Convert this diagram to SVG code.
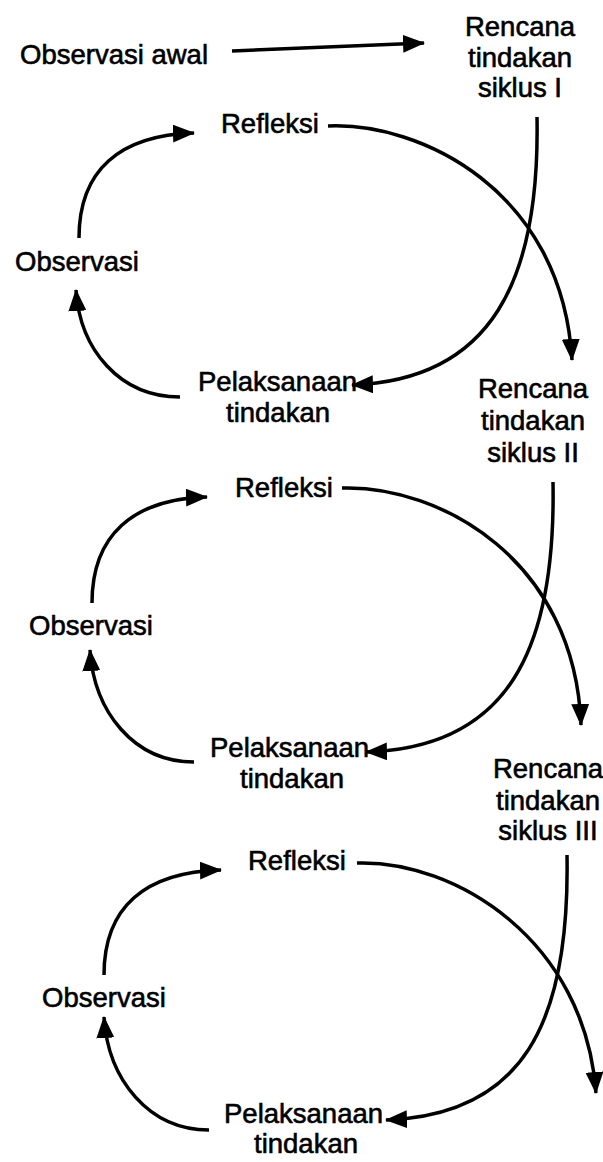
<svg xmlns="http://www.w3.org/2000/svg" width="603" height="1162" viewBox="0 0 603 1162">
<defs>
<style>
text{font-family:"Liberation Sans",Arial,sans-serif;font-size:27.5px;fill:#000;stroke:#000;stroke-width:0.6}
.c{text-anchor:middle}
.ln{fill:none;stroke:#000;stroke-width:3.5}
</style>
<marker id="ah" viewBox="0 0 22 18" refX="21" refY="9" markerWidth="22" markerHeight="18" orient="auto" markerUnits="userSpaceOnUse"><path d="M0,0 L22,9 L0,18 z" fill="#000"/></marker>
</defs>
<rect width="603" height="1162" fill="#fff"/>
<g id="connectors">
<path class="ln" d="M232,51 L424,43" marker-end="url(#ah)"/>
<path class="ln" d="M537,117 C540,280 492,380 352,385" marker-end="url(#ah)"/>
<path class="ln" d="M328,126 C420,122 562,190 572,360" marker-end="url(#ah)"/>
<path class="ln" d="M79,238 C79,170 120,135 194,133" marker-end="url(#ah)"/>
<path class="ln" d="M180,397 C120,397 80,350 76,290" marker-end="url(#ah)"/>
<path class="ln" d="M553,482 C556,650 508,748 366,752" marker-end="url(#ah)"/>
<path class="ln" d="M342,488 C440,485 575,560 581,725" marker-end="url(#ah)"/>
<path class="ln" d="M92,603 C92,535 133,499 207,497" marker-end="url(#ah)"/>
<path class="ln" d="M194,762 C134,762 94,712 90,650" marker-end="url(#ah)"/>
<path class="ln" d="M567,855 C570,1025 522,1115 386,1120" marker-end="url(#ah)"/>
<path class="ln" d="M357,863 C455,860 585,940 596,1093" marker-end="url(#ah)"/>
<path class="ln" d="M104,975 C104,907 145,872 221,870" marker-end="url(#ah)"/>
<path class="ln" d="M209,1130 C149,1130 108,1080 104,1017" marker-end="url(#ah)"/>
</g>
<g id="observasi-awal"><text x="20" y="64">Observasi awal</text></g>
<g id="rencana-1"><text class="c" x="520" y="36">Rencana</text><text class="c" x="520" y="67">tindakan</text><text class="c" x="520" y="97">siklus I</text></g>
<g id="refleksi-1"><text x="221" y="133">Refleksi</text></g>
<g id="observasi-1"><text x="15" y="271">Observasi</text></g>
<g id="pelaksanaan-1"><text x="198" y="391">Pelaksanaan</text><text class="c" x="278" y="422">tindakan</text></g>
<g id="rencana-2"><text class="c" x="533" y="398">Rencana</text><text class="c" x="533" y="430">tindakan</text><text class="c" x="533" y="462">siklus II</text></g>
<g id="refleksi-2"><text x="235" y="497">Refleksi</text></g>
<g id="observasi-2"><text x="29" y="635">Observasi</text></g>
<g id="pelaksanaan-2"><text x="210" y="757">Pelaksanaan</text><text class="c" x="292" y="788">tindakan</text></g>
<g id="rencana-3"><text class="c" x="548" y="778">Rencana</text><text class="c" x="548" y="810">tindakan</text><text class="c" x="548" y="840">siklus III</text></g>
<g id="refleksi-3"><text x="248" y="870">Refleksi</text></g>
<g id="observasi-3"><text x="42" y="1007">Observasi</text></g>
<g id="pelaksanaan-3"><text x="224" y="1123">Pelaksanaan</text><text class="c" x="306" y="1153">tindakan</text></g>
</svg>
